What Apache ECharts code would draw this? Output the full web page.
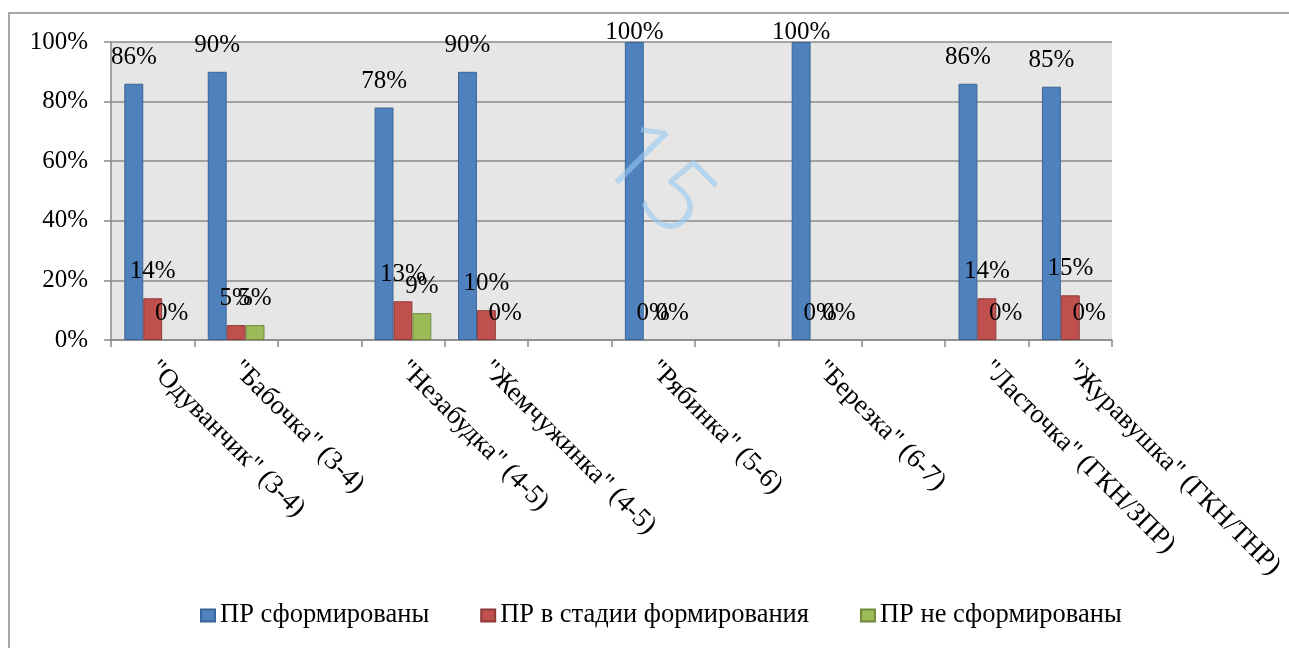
<!DOCTYPE html>
<html><head><meta charset="utf-8">
<script src="https://cdn.jsdelivr.net/npm/echarts@6/dist/echarts.min.js"></script>
<style>html,body{margin:0;padding:0;background:#fff}#c{width:1289px;height:648px}</style>
</head><body><div id="c"></div>
<script>
var categories = ['"Одуванчик" (3-4)', '"Бабочка" (3-4)', ' ', '"Незабудка" (4-5)', '"Жемчужинка" (4-5)', '  ', '"Рябинка" (5-6)', '   ', '"Березка" (6-7)', '    ', '"Ласточка" (ГКН/ЗПР)', '"Журавушка" (ГКН/ТНР)'];
var seriesNames = ['ПР сформированы', 'ПР в стадии формирования', 'ПР не сформированы'];
var formed = [86, 90, null, 78, 90, null, 100, null, 100, null, 86, 85];
var forming = [14, 5, null, 13, 10, null, 0, null, 0, null, 14, 15];
var notFormed = [0, 5, null, 9, 0, null, 0, null, 0, null, 0, 0];
var yTicks = [0, 20, 40, 60, 80, 100];

var FONT = 'Liberation Serif';
var colors = ['#4F81BD', '#C0504D', '#9BBB59'];
var borders = ['#3A6496', '#8E3B39', '#71893F'];
var chart = echarts.init(document.getElementById('c'));
function mk(i, data) {
  return {
    name: seriesNames[i], type: 'bar', barGap: '0%', barCategoryGap: '32%',
    data: data.map(function (v) {
      if (v === 0) return {value: v, itemStyle: {borderWidth: 0}};
      if (v === 100) return {value: v, label: {distance: -3}};
      return v;
    }),
    itemStyle: {color: colors[i], borderColor: borders[i], borderWidth: 1},
    label: {show: true, position: 'top', distance: 14, formatter: '{c}%', fontFamily: FONT, fontSize: 25, color: '#000'}
  };
}
chart.setOption({
  animation: false,
  color: colors,
  textStyle: {fontFamily: FONT, fontSize: 25, color: '#000'},
  graphic: [
    {type: 'rect', shape: {x: 9, y: 13, width: 1400, height: 700}, style: {fill: 'none', stroke: '#8a8a8a', lineWidth: 1.5}, z: 0},
    {type: 'text', x: 655, y: 181, rotation: -Math.PI / 4, z: 100,
     style: {text: '15', fontFamily: 'Noto Sans', fontWeight: 300, fontSize: 100, fill: 'rgba(150,200,240,0.6)', align: 'center', verticalAlign: 'middle'}}
  ],
  grid: {left: 111, right: 177, top: 42, bottom: 308, show: true, backgroundColor: '#e6e6e6', borderWidth: 0},
  legend: {
    bottom: 14, left: 195, itemWidth: 14, itemHeight: 12, itemGap: 51, icon: 'rect',
    textStyle: {fontFamily: FONT, fontSize: 26.5, color: '#000'},
    data: seriesNames
  },
  xAxis: {
    type: 'category', data: categories,
    axisLine: {lineStyle: {color: '#8a8a8a', width: 1.5}},
    axisTick: {show: true, length: 7, interval: 0, lineStyle: {color: '#8a8a8a', width: 1.5}},
    axisLabel: {interval: 0, rotate: -45, margin: 25, fontFamily: FONT, fontSize: 27, color: '#000'}
  },
  yAxis: {
    type: 'value', min: 0, max: 100, interval: 20,
    axisLine: {show: true, lineStyle: {color: '#8a8a8a', width: 1.5}},
    axisTick: {show: true, length: 7, lineStyle: {color: '#8a8a8a', width: 1.5}},
    axisLabel: {formatter: function (v) { return yTicks.indexOf(v) >= 0 ? v + '%' : ''; }, margin: 23, fontFamily: FONT, fontSize: 25, color: '#000'},
    splitLine: {lineStyle: {color: '#8a8a8a', width: 1.5}}
  },
  series: [mk(0, formed), mk(1, forming), mk(2, notFormed)]
});
</script></body></html>
